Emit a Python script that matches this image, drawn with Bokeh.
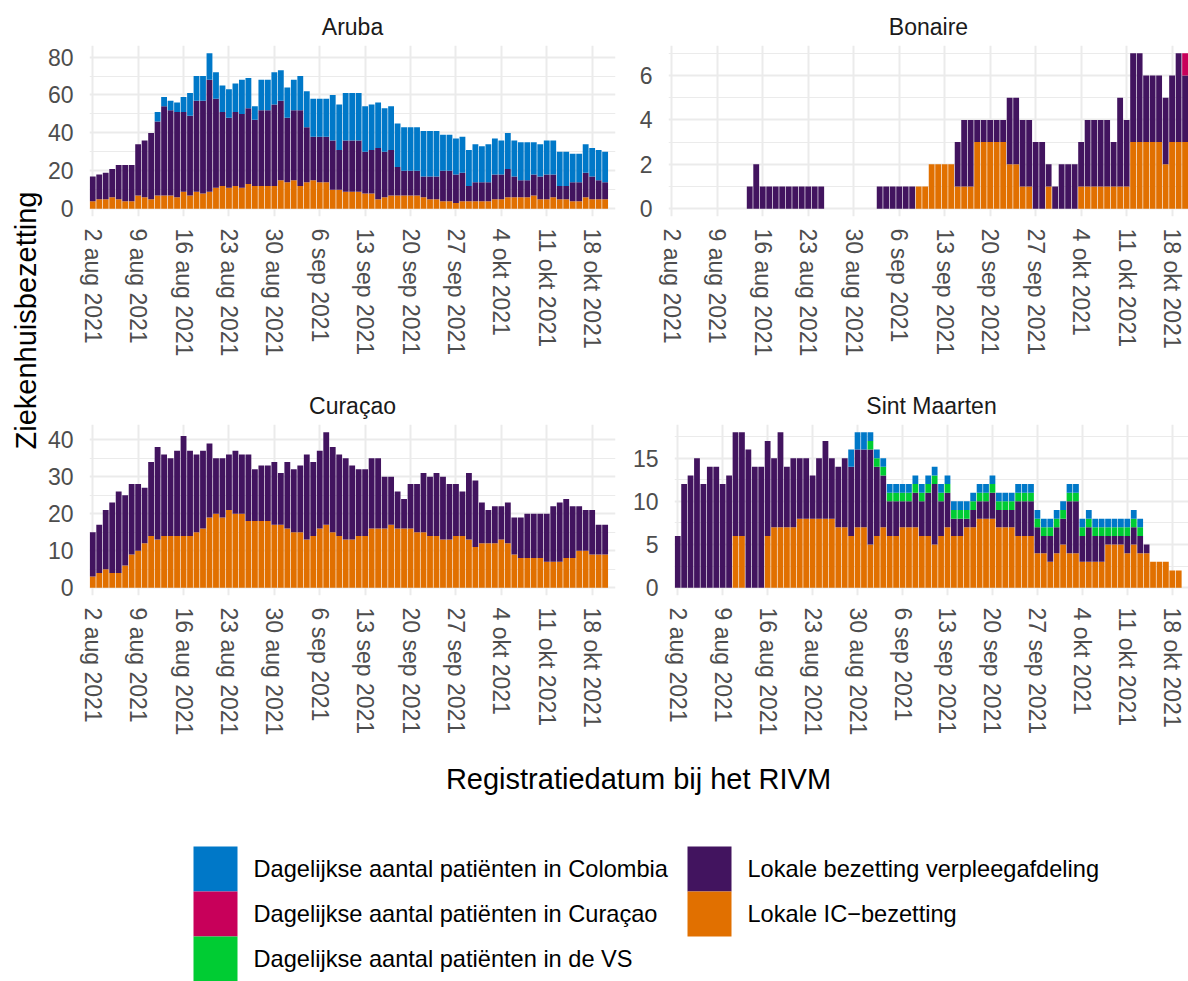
import numpy as np
import pandas as pd
from bokeh.plotting import figure
from bokeh.models import ColumnDataSource, FixedTicker, Range1d
from bokeh.layouts import row, column
from bokeh.embed import file_html
from bokeh.resources import INLINE
from bokeh.core.properties import value

# ---------------- data ----------------
dates = pd.date_range("2021-08-02", "2021-10-20", freq="D")

tick_dates = ["2021-08-02", "2021-08-09", "2021-08-16", "2021-08-23", "2021-08-30",
              "2021-09-06", "2021-09-13", "2021-09-20", "2021-09-27", "2021-10-04",
              "2021-10-11", "2021-10-18"]
tick_labels = ["2 aug 2021", "9 aug 2021", "16 aug 2021", "23 aug 2021", "30 aug 2021",
               "6 sep 2021", "13 sep 2021", "20 sep 2021", "27 sep 2021", "4 okt 2021",
               "11 okt 2021", "18 okt 2021"]

islands = ["Aruba", "Bonaire", "Curaçao", "Sint Maarten"]

legend_labels = ["Dagelijkse aantal patiënten in Colombia",
                 "Dagelijkse aantal patiënten in Curaçao",
                 "Dagelijkse aantal patiënten in de VS",
                 "Lokale bezetting verpleegafdeling",
                 "Lokale IC\u2212bezetting"]
legend_keys = ["col", "cur", "vs", "ward", "ic"]
stack_order = ["ic", "ward", "vs", "cur", "col"]
colors = {"col": "#0078C8", "cur": "#C8005A", "vs": "#00CC33",
          "ward": "#42145F", "ic": "#E17000"}

z80 = [0] * 80

aruba_ic = [4, 5, 5, 6, 5, 4, 4, 7, 6, 5,
            7, 7, 7, 6, 9, 7, 9, 8, 9, 11,
            12, 11, 12, 11, 13, 12, 12, 12, 12, 15,
            14, 15, 12, 14, 15, 14, 14, 10, 10, 9,
            9, 9, 8, 8, 5, 6, 7, 7, 7, 7,
            7, 6, 5, 5, 4, 4, 3, 4, 4, 4,
            4, 4, 5, 5, 6, 6, 6, 6, 7, 5,
            5, 6, 5, 5, 4, 4, 6, 5, 5, 5]
aruba_ward = [13, 13, 14, 15, 18, 19, 19, 27, 30, 35,
              39, 47, 45, 45, 42, 42, 48, 49, 59, 47,
              39, 37, 39, 39, 40, 35, 40, 40, 43, 42,
              34, 37, 40, 29, 23, 24, 24, 26, 21, 27,
              27, 27, 22, 23, 27, 24, 24, 15, 13, 13,
              13, 11, 12, 12, 16, 16, 15, 15, 8, 10,
              10, 10, 13, 13, 15, 11, 9, 9, 11, 12,
              13, 12, 7, 7, 10, 10, 13, 12, 10, 9]
aruba_col = [0, 0, 0, 0, 0, 0, 0, 0, 0, 0,
             5, 5, 5, 5, 8, 12, 13, 13, 14, 14,
             14, 15, 15, 18, 16, 7, 16, 16, 17, 16,
             16, 16, 18, 19, 20, 20, 20, 24, 24, 25,
             25, 25, 24, 24, 24, 23, 23, 23, 23, 23,
             23, 24, 24, 24, 19, 19, 19, 19, 19, 20,
             19, 20, 19, 18, 19, 19, 20, 20, 17, 17,
             18, 18, 18, 18, 15, 15, 15, 15, 16, 16]
aruba_vs = z80
aruba_cur = z80

bonaire_ic = [0, 0, 0, 0, 0, 0, 0, 0, 0, 0,
              0, 0, 0, 0, 0, 0, 0, 0, 0, 0,
              0, 0, 0, 0, 0, 0, 0, 0, 0, 0,
              0, 0, 0, 0, 0, 0, 0, 0, 1, 1,
              2, 2, 2, 2, 1, 1, 1, 3, 3, 3,
              3, 3, 2, 2, 1, 1, 0, 0, 1, 0,
              0, 0, 0, 1, 1, 1, 1, 1, 1, 1,
              1, 3, 3, 3, 3, 3, 2, 3, 3, 3]
bonaire_ward = [0, 0, 0, 0, 0, 0, 0, 0, 0, 0,
                0, 0, 1, 2, 1, 1, 1, 1, 1, 1,
                1, 1, 1, 1, 0, 0, 0, 0, 0, 0,
                0, 0, 1, 1, 1, 1, 1, 1, 0, 0,
                0, 0, 0, 0, 2, 3, 3, 1, 1, 1,
                1, 1, 3, 3, 3, 3, 3, 3, 1, 1,
                2, 2, 2, 2, 3, 3, 3, 3, 2, 4,
                3, 4, 4, 3, 3, 3, 3, 3, 4, 3]
bonaire_cur = [0, 0, 0, 0, 0, 0, 0, 0, 0, 0,
               0, 0, 0, 0, 0, 0, 0, 0, 0, 0,
               0, 0, 0, 0, 0, 0, 0, 0, 0, 0,
               0, 0, 0, 0, 0, 0, 0, 0, 0, 0,
               0, 0, 0, 0, 0, 0, 0, 0, 0, 0,
               0, 0, 0, 0, 0, 0, 0, 0, 0, 0,
               0, 0, 0, 0, 0, 0, 0, 0, 0, 0,
               0, 0, 0, 0, 0, 0, 0, 0, 0, 1]
bonaire_vs = z80
bonaire_col = z80

curacao_ic = [3, 4, 5, 4, 4, 6, 9, 10, 12, 14,
              13, 14, 14, 14, 14, 14, 15, 16, 19, 20,
              19, 21, 20, 20, 18, 18, 18, 18, 17, 17,
              16, 15, 15, 13, 14, 16, 17, 15, 14, 13,
              13, 14, 14, 16, 16, 16, 17, 16, 16, 16,
              15, 15, 14, 14, 13, 13, 14, 14, 13, 11,
              12, 12, 12, 13, 12, 9, 8, 8, 8, 8,
              7, 7, 7, 8, 8, 10, 10, 9, 9, 9]
curacao_ward = [12, 13, 16, 19, 22, 19, 19, 18, 15, 20,
                25, 22, 21, 23, 27, 23, 21, 21, 20, 15,
                16, 15, 17, 16, 18, 14, 15, 15, 17, 14,
                18, 17, 18, 23, 20, 21, 25, 23, 22, 22,
                20, 18, 18, 19, 19, 14, 13, 10, 8, 12,
                13, 16, 16, 17, 17, 15, 14, 12, 18, 18,
                11, 9, 10, 9, 11, 10, 11, 12, 12, 12,
                13, 15, 16, 16, 14, 12, 11, 12, 8, 8]
curacao_vs = z80
curacao_cur = z80
curacao_col = z80

sxm_ic = [0, 0, 0, 0, 0, 0, 0, 0, 0, 6,
          6, 0, 0, 0, 6, 7, 7, 7, 7, 8,
          8, 8, 8, 8, 8, 7, 7, 6, 7, 7,
          5, 6, 7, 6, 6, 7, 7, 7, 6, 6,
          5, 6, 7, 6, 6, 7, 7, 8, 8, 8,
          7, 7, 7, 6, 6, 6, 4, 4, 3, 4,
          5, 4, 4, 3, 3, 3, 3, 5, 5, 5,
          4, 5, 4, 4, 3, 3, 3, 2, 2, 0]
sxm_ward = [6, 12, 13, 15, 12, 14, 14, 12, 13, 12,
            12, 16, 14, 14, 11, 8, 11, 7, 8, 7,
            7, 5, 7, 9, 7, 7, 8, 8, 9, 9,
            11, 8, 6, 4, 4, 3, 3, 4, 4, 5,
            7, 4, 4, 2, 2, 1, 2, 2, 2, 3,
            2, 2, 2, 4, 4, 4, 3, 2, 3, 3,
            3, 6, 6, 3, 4, 3, 3, 1, 1, 1,
            2, 2, 2, 1, 0, 0, 0, 0, 0, 0]
sxm_vs = [0, 0, 0, 0, 0, 0, 0, 0, 0, 0,
          0, 0, 0, 0, 0, 0, 0, 0, 0, 0,
          0, 0, 0, 0, 0, 0, 0, 0, 0, 0,
          1, 1, 1, 1, 1, 1, 1, 1, 1, 1,
          1, 1, 1, 1, 1, 1, 1, 1, 1, 1,
          1, 1, 1, 1, 1, 1, 1, 1, 1, 1,
          1, 1, 1, 1, 1, 1, 1, 1, 1, 1,
          1, 1, 1, 0, 0, 0, 0, 0, 0, 0]
sxm_col = [0, 0, 0, 0, 0, 0, 0, 0, 0, 0,
           0, 0, 0, 0, 0, 0, 0, 0, 0, 0,
           0, 0, 0, 0, 0, 0, 0, 2, 2, 2,
           1, 1, 1, 1, 1, 1, 1, 1, 1, 1,
           1, 1, 1, 1, 1, 1, 1, 1, 1, 1,
           1, 1, 1, 1, 1, 1, 1, 1, 1, 1,
           1, 1, 1, 1, 1, 1, 1, 1, 1, 1,
           1, 1, 1, 0, 0, 0, 0, 0, 0, 0]
sxm_cur = z80

y_major = {"Aruba": [0, 20, 40, 60, 80], "Bonaire": [0, 2, 4, 6],
           "Curaçao": [0, 10, 20, 30, 40], "Sint Maarten": [0, 5, 10, 15]}
y_minor = {"Aruba": [10, 30, 50, 70], "Bonaire": [1, 3, 5, 7],
           "Curaçao": [5, 15, 25, 35], "Sint Maarten": [2.5, 7.5, 12.5, 17.5]}

island_data = {
    "Aruba": dict(ic=aruba_ic, ward=aruba_ward, vs=aruba_vs, cur=aruba_cur, col=aruba_col),
    "Bonaire": dict(ic=bonaire_ic, ward=bonaire_ward, vs=bonaire_vs, cur=bonaire_cur, col=bonaire_col),
    "Curaçao": dict(ic=curacao_ic, ward=curacao_ward, vs=curacao_vs, cur=curacao_cur, col=curacao_col),
    "Sint Maarten": dict(ic=sxm_ic, ward=sxm_ward, vs=sxm_vs, cur=sxm_cur, col=sxm_col),
}

# ---------------- layout constants ----------------
FONT = "Liberation Sans"
SMALL = "23px"
LEGEND_FS = "23.6px"
BIG = "29px"
day_x = np.array((dates - dates[0]).days, dtype=float)
tick_x = [int(d) for d in (pd.to_datetime(tick_dates) - dates[0]).days]

YL_W = 44
L_LEFT, L_FRAME, L_RIGHT = 44, 527, 14
R_LEFT, R_FRAME, R_RIGHT = 39, 520, 0
ROW1 = dict(top=45, frame=171, bottom=164)
ROW2 = dict(top=44, frame=171, bottom=145)
PX_PER_DAY = L_FRAME / 81.1


def make_panel(name, left_col, rowspec):
    d = island_data[name]
    src = ColumnDataSource(dict(x=day_x, **{k: d[k] for k in stack_order}))
    totals = np.sum([np.array(d[k]) for k in stack_order], axis=0)
    ymax = float(totals.max())
    if left_col:
        lb, fw, rb = L_LEFT, L_FRAME, L_RIGHT
    else:
        lb, fw, rb = R_LEFT, R_FRAME, R_RIGHT
    x_end = -0.5 + fw / PX_PER_DAY
    p = figure(width=lb + fw + rb, height=rowspec["top"] + rowspec["frame"] + rowspec["bottom"],
               x_range=Range1d(-0.5, x_end),
               y_range=Range1d(-0.05 * ymax, 1.05 * ymax),
               output_backend="svg", toolbar_location=None,
               min_border_left=lb, min_border_right=rb,
               min_border_top=rowspec["top"], min_border_bottom=rowspec["bottom"])
    p.outline_line_color = None
    p.title.text = name
    p.title.align = "center"
    p.title.text_font = FONT
    p.title.text_font_size = SMALL
    p.title.text_font_style = "normal"
    p.title.text_color = "#1A1A1A"
    p.title.standoff = 11

    p.vbar_stack(stack_order, x="x", width=0.9, source=src,
                 fill_color=[colors[k] for k in stack_order], line_color=None)

    p.xaxis.ticker = FixedTicker(ticks=tick_x)
    p.xaxis.major_label_overrides = {t: lab for t, lab in zip(tick_x, tick_labels)}
    p.xaxis.major_label_orientation = "vertical"
    yt = FixedTicker(ticks=y_major[name], minor_ticks=y_minor[name])
    p.yaxis.ticker = yt
    p.ygrid.ticker = yt
    for ax in (p.xaxis, p.yaxis):
        ax.axis_line_color = None
        ax.major_tick_line_color = None
        ax.minor_tick_line_color = None
        ax.major_tick_out = 0
        ax.major_tick_in = 0
        ax.major_label_standoff = 12
        ax.major_label_text_font = FONT
        ax.major_label_text_font_size = SMALL
        ax.major_label_text_color = "#4D4D4D"
    p.xgrid.grid_line_color = "#EBEBEB"
    p.xgrid.grid_line_width = 2
    p.ygrid.grid_line_color = "#EBEBEB"
    p.ygrid.grid_line_width = 2
    p.ygrid.minor_grid_line_color = "#EBEBEB"
    p.ygrid.minor_grid_line_width = 1
    return p


p_aw = make_panel("Aruba", True, ROW1)
p_bo = make_panel("Bonaire", False, ROW1)
p_cw = make_panel("Curaçao", True, ROW2)
p_sx = make_panel("Sint Maarten", False, ROW2)

# y-axis title column
grid_h = sum(ROW1.values()) + sum(ROW2.values())
yl = figure(width=YL_W, height=grid_h, x_range=Range1d(0, YL_W), y_range=Range1d(0, grid_h),
            x_axis_type=None, y_axis_type=None, output_backend="svg", toolbar_location=None,
            min_border=0, min_border_left=0, min_border_right=0, min_border_top=0, min_border_bottom=0)
yl.outline_line_color = None
yl.grid.visible = False
panels_mid = ROW1["top"] + (ROW1["frame"] + ROW1["bottom"] + ROW2["top"] + ROW2["frame"]) / 2
yl.text(x=[25], y=[grid_h - panels_mid], text=["Ziekenhuisbezetting"], angle=np.pi / 2,
        text_align="center", text_baseline="middle", text_font=value(FONT),
        text_font_size=BIG, text_color="#000000")

# bottom: x-axis title + legend
BW = YL_W + L_LEFT + L_FRAME + L_RIGHT + R_LEFT + R_FRAME + R_RIGHT
BH = 241
bot = figure(width=BW, height=BH, x_range=Range1d(0, BW), y_range=Range1d(0, BH),
             x_axis_type=None, y_axis_type=None, output_backend="svg", toolbar_location=None,
             min_border=0, min_border_left=0, min_border_right=0, min_border_top=0, min_border_bottom=0)
bot.outline_line_color = None
bot.grid.visible = False
panels_center_x = YL_W + L_LEFT + (L_FRAME + L_RIGHT + R_LEFT + R_FRAME) / 2
bot.text(x=[panels_center_x], y=[BH - 38], text=["Registratiedatum bij het RIVM"],
         text_align="center", text_baseline="middle", text_font=value(FONT),
         text_font_size=BIG, text_color="#000000")

KEY_W = 44
ROW_H = 45
LEG_LEFT = 193
COL_STEP = 494
LEG_TOP = 106
idx = np.arange(len(legend_labels))
colno = idx // 3
rowno = idx % 3
key_cx = LEG_LEFT + colno * COL_STEP + KEY_W / 2
key_cy = BH - (LEG_TOP + rowno * ROW_H + ROW_H / 2)
bot.rect(x=key_cx, y=key_cy, width=KEY_W, height=ROW_H,
         fill_color=[colors[k] for k in legend_keys], line_color=None)
bot.text(x=key_cx + KEY_W / 2 + 16, y=key_cy, text=legend_labels,
         text_align="left", text_baseline="middle", text_font=value(FONT),
         text_font_size=LEGEND_FS, text_color="#000000")

layout = column(row(yl, column(row(p_aw, p_bo), row(p_cw, p_sx))), bot)

open("out.html", "w").write(file_html(layout, INLINE))
